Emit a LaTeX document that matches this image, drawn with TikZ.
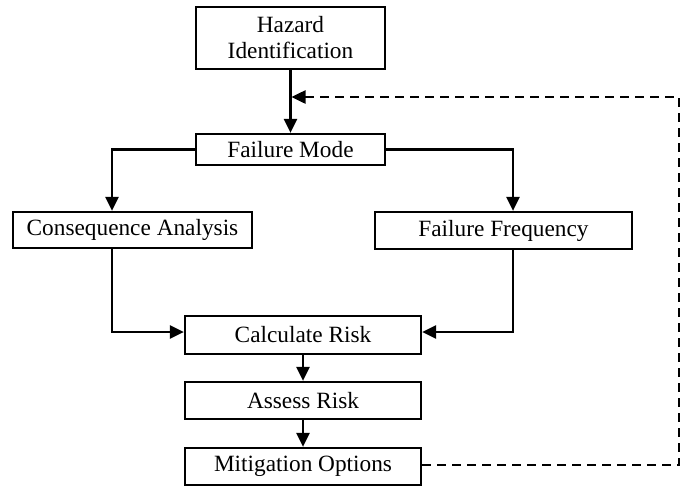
\documentclass[tikz,border=0pt]{standalone}
\usepackage{fontspec}
\setmainfont{Liberation Serif}
\usetikzlibrary{arrows.meta}
\begin{document}
\begin{tikzpicture}[x=1pt,y=-1pt,
  box/.style={draw,line width=2.2pt,inner sep=0pt,align=center,font=\fontsize{23.3}{26}\selectfont},
  conn/.style={line width=2.5pt,-{Triangle[length=14pt,width=13pt]}},
  fb/.style={line width=2.5pt,dash pattern=on 9pt off 6pt,-{Triangle[length=14pt,width=13pt]}}]
\useasboundingbox (0,0) rectangle (686,488);
\node[box,minimum width=189pt,minimum height=62pt] (HI) at (290.5,38) {Hazard\\Identification};
\node[box,minimum width=189pt,minimum height=31pt] (FM) at (290.5,149.5) {Failure Mode};
\node[box,minimum width=239pt,minimum height=36pt] (CA) at (132.5,230) {Consequence Analysis};
\node[box,minimum width=257pt,minimum height=37pt] (FF) at (503.5,230.5) {Failure Frequency};
\node[box,minimum width=236pt,minimum height=38pt] (CR) at (303,335) {Calculate Risk};
\node[box,minimum width=236pt,minimum height=37pt] (AR) at (303,400.5) {Assess Risk};
\node[box,minimum width=236pt,minimum height=37pt] (MO) at (303,466.5) {Mitigation Options};
\coordinate (j) at (291.5,97);
\coordinate (c1) at (679,465);
\coordinate (c2) at (679,97);
\draw[conn] (HI.south) -- (FM.north);
\draw[conn] (FM.west) -| ([xshift=-20.5pt]CA.north);
\draw[conn] (FM.east) -| ([xshift=9.5pt]FF.north);
\draw[conn] ([xshift=-20.5pt]CA.south) |- ([yshift=3pt]CR.west);
\draw[conn] ([xshift=9.5pt]FF.south) |- ([yshift=3pt]CR.east);
\draw[conn] (CR.south) -- (AR.north);
\draw[conn] (AR.south) -- (MO.north);
\draw[fb] (MO.east |- c1) -- (c1) -- (c2) -- (j);
\end{tikzpicture}
\end{document}
